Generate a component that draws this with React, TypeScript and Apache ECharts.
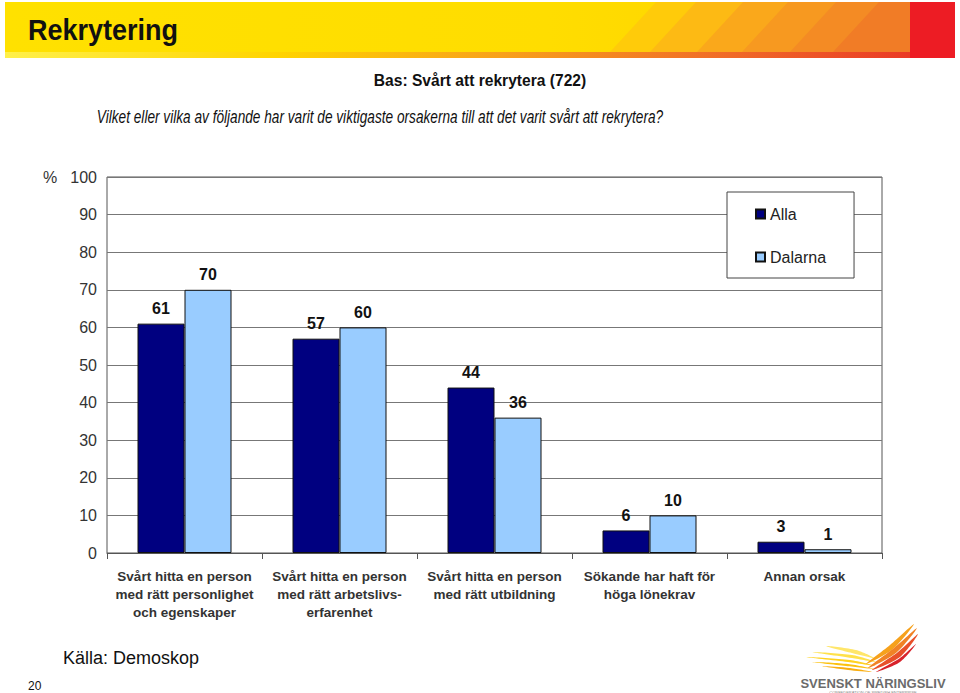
import React, { useEffect, useRef } from "react";
import * as echarts from "echarts";

const categories = [
  "Svårt hitta en person\nmed rätt personlighet\noch egenskaper",
  "Svårt hitta en person\nmed rätt arbetslivs-\nerfarenhet",
  "Svårt hitta en person\nmed rätt utbildning",
  "Sökande har haft för\nhöga lönekrav",
  "Annan orsak",
];
const seriesNames = ["Alla", "Dalarna"];
const allaValues = [61, 57, 44, 6, 3];
const dalarnaValues = [70, 60, 36, 10, 1];
const colors = ["#000080", "#99CCFF"];

const FONT = "Liberation Sans, Arial, sans-serif";

export default function App() {
  const ref = useRef<HTMLDivElement>(null);
  useEffect(() => {
    document.body.style.margin = "0";
    const chart = echarts.init(ref.current!, null, { renderer: "svg" });

    const wing = (pts: number[][], color: string) => ({
      type: "polygon",
      shape: { points: pts, smooth: 0.3 },
      style: { fill: color },
      silent: true,
    });
    const band = (bx: number, color: string) => ({
      type: "polygon",
      shape: { points: [[bx, 52], [bx + 46, 2], [910, 2], [910, 52]] },
      style: { fill: color },
      silent: true,
    });

    chart.setOption({
      animation: false,
      textStyle: { fontFamily: FONT },
      grid: {
        left: 107,
        top: 177,
        width: 775,
        height: 376,
        show: true,
        borderColor: "#555",
        borderWidth: 1,
        backgroundColor: "#fff",
      },
      legend: {
        orient: "vertical",
        left: 727,
        top: 192,
        padding: [14, 28, 13, 28],
        backgroundColor: "#fff",
        borderColor: "#444",
        borderWidth: 1,
        borderRadius: 0,
        itemWidth: 9,
        itemHeight: 9,
        itemGap: 27,
        icon: "rect",
        textStyle: { fontSize: 16, color: "#222", fontFamily: FONT, lineHeight: 16 },
        data: seriesNames,
        z: 10,
      },
      xAxis: {
        type: "category",
        data: categories,
        axisLine: { show: true, lineStyle: { color: "#555" } },
        axisTick: { show: true, length: 6, lineStyle: { color: "#555" } },
        axisLabel: {
          fontSize: 13.5,
          fontWeight: "bold",
          color: "#333",
          lineHeight: 18,
          margin: 14,
          interval: 0,
          fontFamily: FONT,
        },
      },
      yAxis: {
        type: "value",
        min: 0,
        max: 100,
        interval: 10,
        axisLine: { show: false },
        axisTick: { show: false },
        axisLabel: { fontSize: 16, color: "#333", margin: 10, fontFamily: FONT },
        splitLine: { lineStyle: { color: "#777", width: 1 } },
      },
      series: [
        {
          name: seriesNames[0],
          type: "bar",
          data: allaValues,
          barWidth: 47,
          barGap: "0%",
          itemStyle: { color: colors[0], borderColor: "#111", borderWidth: 1 },
          label: {
            show: true,
            position: "top",
            distance: 7,
            fontSize: 16,
            fontWeight: "bold",
            color: "#111",
            fontFamily: FONT,
          },
        },
        {
          name: seriesNames[1],
          type: "bar",
          data: dalarnaValues,
          barWidth: 47,
          barGap: "0%",
          itemStyle: { color: colors[1], borderColor: "#111", borderWidth: 1 },
          label: {
            show: true,
            position: "top",
            distance: 7,
            fontSize: 16,
            fontWeight: "bold",
            color: "#111",
            fontFamily: FONT,
          },
        },
      ],
      graphic: [
        {
          type: "rect",
          shape: { x: 5, y: 2, width: 905, height: 56 },
          style: {
            fill: new echarts.graphic.LinearGradient(0, 0, 1, 0, [
              { offset: 0, color: "#FFE100" },
              { offset: 0.6, color: "#FFDD00" },
              { offset: 1, color: "#FFD000" },
            ]),
          },
          silent: true,
        },
        band(610, "#FFCB0A"),
        band(650, "#FDBA14"),
        band(697, "#FAA81B"),
        band(742, "#F79920"),
        band(790, "#F48B24"),
        band(833, "#F17C26"),
        {
          type: "rect",
          shape: { x: 910, y: 2, width: 45, height: 56 },
          style: { fill: "#ED1C24" },
          silent: true,
        },
        {
          type: "rect",
          shape: { x: 5, y: 52, width: 905, height: 6 },
          style: {
            fill: new echarts.graphic.LinearGradient(0, 0, 1, 0, [
              { offset: 0, color: "#FFF04A" },
              { offset: 0.3, color: "#FFD400" },
              { offset: 0.55, color: "#F8A01B" },
              { offset: 0.8, color: "#F06A28" },
              { offset: 1, color: "#EA3A26" },
            ]),
          },
          silent: true,
        },
        {
          type: "text",
          x: 28,
          y: 29,
          scaleX: 0.9,
          style: {
            text: "Rekrytering",
            font: `bold 30px ${FONT}`,
            fill: "#111",
            verticalAlign: "middle",
          },
        },
        {
          type: "text",
          x: 480,
          y: 80,
          style: {
            text: "Bas: Svårt att rekrytera (722)",
            font: `bold 15.6px ${FONT}`,
            fill: "#111",
            align: "center",
            verticalAlign: "middle",
          },
        },
        {
          type: "text",
          x: 380,
          y: 117,
          scaleX: 0.78,
          style: {
            text: "Vilket eller vilka av följande har varit de viktigaste orsakerna till att det varit svårt att rekrytera?",
            font: `italic 17.5px ${FONT}`,
            fill: "#111",
            align: "center",
            verticalAlign: "middle",
          },
        },
        {
          type: "text",
          x: 50,
          y: 177,
          style: {
            text: "%",
            font: `16px ${FONT}`,
            fill: "#333",
            align: "center",
            verticalAlign: "middle",
          },
        },
        {
          type: "text",
          x: 63,
          y: 658,
          style: {
            text: "Källa: Demoskop",
            font: `18px ${FONT}`,
            fill: "#111",
            verticalAlign: "middle",
          },
        },
        {
          type: "text",
          x: 28,
          y: 686,
          style: {
            text: "20",
            font: `12px ${FONT}`,
            fill: "#111",
            verticalAlign: "middle",
          },
        },
        // logo wings
        wing([[826, 646], [856, 650], [874, 658], [852, 653]], "#FFE66A"),
        wing([[812, 652], [852, 655], [876, 662], [852, 658]], "#FFE14A"),
        wing([[806, 657], [850, 660], [876, 666], [848, 662]], "#FFD21F"),
        wing([[812, 662], [848, 664], [874, 669], [846, 666]], "#FCC10F"),
        wing([[822, 666], [850, 668], [872, 672], [848, 670]], "#F9AE12"),
        wing([[866, 664], [890, 645], [914, 624], [893, 649]], "#F6A11C"),
        wing([[868, 668], [894, 648], [917, 628], [896, 653]], "#F08226"),
        wing([[872, 670], [898, 652], [918, 634], [900, 657]], "#E8502A"),
        wing([[876, 672], [900, 658], [916, 644], [900, 662]], "#D8232B"),
        {
          type: "text",
          x: 873,
          y: 683,
          style: {
            text: "SVENSKT NÄRINGSLIV",
            font: `bold 13px ${FONT}`,
            fill: "#6B6B6B",
            align: "center",
            verticalAlign: "middle",
          },
        },
        {
          type: "text",
          x: 873,
          y: 692,
          style: {
            text: "CONFEDERATION OF SWEDISH ENTERPRISE",
            font: `4px ${FONT}`,
            fill: "#888",
            align: "center",
            verticalAlign: "middle",
          },
        },
      ],
    });
    return () => chart.dispose();
  }, []);
  return (
    <div
      ref={ref}
      style={{ width: 960, height: 693, position: "absolute", left: 0, top: 0, background: "#fff" }}
    />
  );
}
